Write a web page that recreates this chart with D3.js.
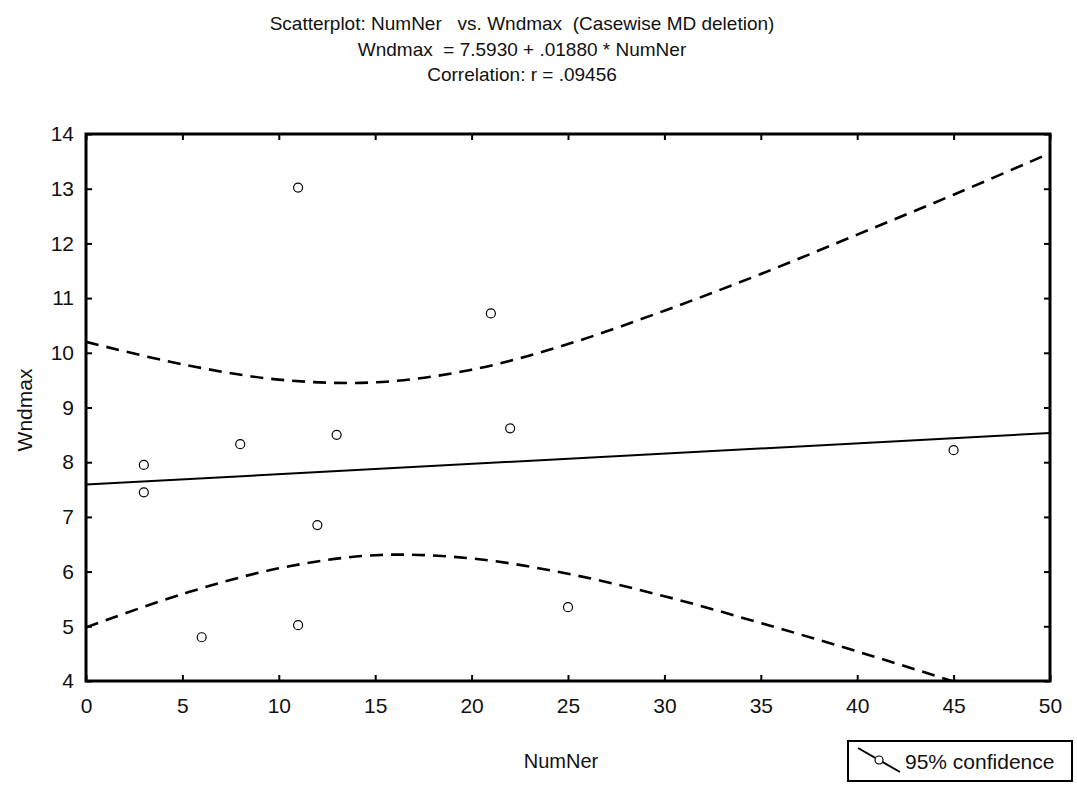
<!DOCTYPE html>
<html>
<head>
<meta charset="utf-8">
<script src="https://cdn.jsdelivr.net/npm/d3@7"></script>
<style>
  body { margin: 0; background: #fff; }
  text { font-family: "Liberation Sans", Arial, sans-serif; fill: #111; white-space: pre; }
</style>
</head>
<body>
<svg id="chart" width="1077" height="793"></svg>
<script>
// data
var numNer = [3, 3, 6, 8, 11, 11, 12, 13, 21, 22, 25, 45];
var wndmax = [7.95, 7.45, 4.8, 8.33, 13.02, 5.02, 6.85, 8.5, 10.72, 8.62, 5.35, 8.22];

var intercept = 7.5930, slope = 0.01880;

// 95% confidence band
var bandX     = [0, 5, 10, 15, 20, 25, 30, 35, 40, 45, 50];
var bandUpper = [10.20, 9.79, 9.51, 9.46, 9.69, 10.16, 10.77, 11.44, 12.16, 12.89, 13.65];
var bandLower = [4.98, 5.59, 6.06, 6.30, 6.24, 5.96, 5.55, 5.06, 4.54, 3.99, 3.41];

var xTicks = [0, 5, 10, 15, 20, 25, 30, 35, 40, 45, 50];
var yTicks = [4, 5, 6, 7, 8, 9, 10, 11, 12, 13, 14];

var titleLines = [
    "Scatterplot: NumNer   vs. Wndmax  (Casewise MD deletion)",
    "Wndmax  = 7.5930 + .01880 * NumNer",
    "Correlation: r = .09456"
];

var svg = d3.select("#chart");

// plot box (window.top is reserved, so keep these in an object)
var box = { left: 86, right: 1050, top: 134, bottom: 681 };

var x = d3.scaleLinear().domain([0, 50]).range([box.left, box.right]);
var y = d3.scaleLinear().domain([4, 14]).range([box.bottom, box.top]);

// titles
svg.append("g")
    .selectAll("text")
    .data(titleLines)
    .enter()
    .append("text")
    .attr("x", 522)
    .attr("y", function (d, i) { return 30 + i * 25.5; })
    .attr("text-anchor", "middle")
    .attr("font-size", "19px")
    .text(function (d) { return d; });

// clip for lines
svg.append("defs").append("clipPath")
    .attr("id", "plotClip")
    .append("rect")
    .attr("x", box.left).attr("y", box.top)
    .attr("width", box.right - box.left).attr("height", box.bottom - box.top);

var plot = svg.append("g").attr("clip-path", "url(#plotClip)");

// regression line
plot.append("line")
    .attr("x1", x(0)).attr("y1", y(intercept))
    .attr("x2", x(50)).attr("y2", y(intercept + slope * 50))
    .attr("stroke", "#000")
    .attr("stroke-width", 2);

var bandLine = function (vals) {
    return d3.line()
        .x(function (d, i) { return x(bandX[i]); })
        .y(function (d) { return y(d); })
        .curve(d3.curveCatmullRom)(vals);
};

[bandUpper, bandLower].forEach(function (vals) {
    plot.append("path")
        .attr("d", bandLine(vals))
        .attr("fill", "none")
        .attr("stroke", "#000")
        .attr("stroke-width", 2.6)
        .attr("stroke-dasharray", "13,8");
});

// points
svg.append("g")
    .selectAll("circle")
    .data(numNer)
    .enter()
    .append("circle")
    .attr("cx", function (d) { return x(d); })
    .attr("cy", function (d, i) { return y(wndmax[i]); })
    .attr("r", 4.5)
    .attr("fill", "#fff")
    .attr("stroke", "#000")
    .attr("stroke-width", 1.2);

// axes with inward ticks
var tickLen = 6;
svg.append("g")
    .attr("transform", "translate(0," + box.bottom + ")")
    .call(d3.axisBottom(x).tickValues(xTicks).tickSize(-tickLen).tickPadding(17))
    .call(function (g) {
        g.select(".domain").remove();
        g.selectAll("line").attr("stroke-width", 2);
        g.selectAll("text").attr("font-size", "21px").attr("fill", "#111");
    });

svg.append("g")
    .attr("transform", "translate(0," + box.top + ")")
    .call(d3.axisTop(x).tickValues(xTicks).tickSize(-tickLen).tickFormat(""))
    .call(function (g) {
        g.select(".domain").remove();
        g.selectAll("line").attr("stroke-width", 2);
    });

svg.append("g")
    .attr("transform", "translate(" + box.left + ",0)")
    .call(d3.axisLeft(y).tickValues(yTicks).tickSize(-tickLen).tickPadding(12))
    .call(function (g) {
        g.select(".domain").remove();
        g.selectAll("line").attr("stroke-width", 2);
        g.selectAll("text").attr("font-size", "21px").attr("fill", "#111");
    });

svg.append("g")
    .attr("transform", "translate(" + box.right + ",0)")
    .call(d3.axisRight(y).tickValues(yTicks).tickSize(-tickLen).tickFormat(""))
    .call(function (g) {
        g.select(".domain").remove();
        g.selectAll("line").attr("stroke-width", 2);
    });

// frame
svg.append("rect")
    .attr("x", box.left).attr("y", box.top)
    .attr("width", box.right - box.left).attr("height", box.bottom - box.top)
    .attr("fill", "none")
    .attr("stroke", "#000")
    .attr("stroke-width", 3);

// axis titles
svg.append("text")
    .attr("x", 561).attr("y", 768)
    .attr("text-anchor", "middle")
    .attr("font-size", "20px")
    .text("NumNer");

svg.append("text")
    .attr("transform", "translate(32,410) rotate(-90)")
    .attr("text-anchor", "middle")
    .attr("font-size", "21px")
    .text("Wndmax");

// legend
var legend = svg.append("g");
legend.append("rect")
    .attr("x", 848).attr("y", 741)
    .attr("width", 224).attr("height", 40)
    .attr("fill", "#fff")
    .attr("stroke", "#000")
    .attr("stroke-width", 2);
legend.append("line")
    .attr("x1", 858).attr("y1", 748)
    .attr("x2", 900).attr("y2", 772)
    .attr("stroke", "#000")
    .attr("stroke-width", 2);
legend.append("circle")
    .attr("cx", 879).attr("cy", 760)
    .attr("r", 4)
    .attr("fill", "#fff")
    .attr("stroke", "#000")
    .attr("stroke-width", 1.2);
legend.append("text")
    .attr("x", 905).attr("y", 769)
    .attr("font-size", "21px")
    .text("95% confidence");
</script>
</body>
</html>
